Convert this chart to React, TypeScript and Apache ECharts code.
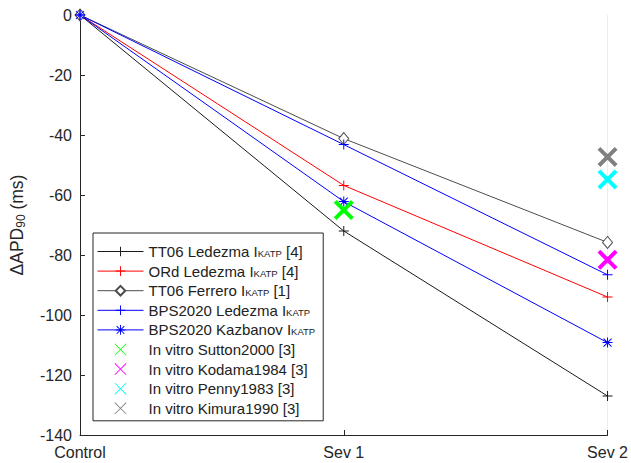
import React, { useEffect, useRef } from "react";
import * as echarts from "echarts";

const categories = ["Control", "Sev 1", "Sev 2"];
const tt06Ledezma = [0, -72, -127];
const ordLedezma = [0, -56.8, -94];
const tt06Ferrero = [0, -41.2, -75.8];
const bpsLedezma = [0, -43.2, -86.6];
const bpsKazbanov = [0, -62.2, -109.2];
const sutton = [null, -65, null];
const kodama = [null, null, -81.6];
const penny = [null, null, -54.8];
const kimura = [null, null, -47.3];

const PLUS = "path://M4.5,0H5.5V4.5H10V5.5H5.5V10H4.5V5.5H0V4.5H4.5Z";
const STAR =
  "path://M4.5,0H5.5V10H4.5Z M0,4.5H10V5.5H0Z M1.35,0.65L9.35,8.65L8.65,9.35L0.65,1.35Z M8.65,0.65L9.35,1.35L1.35,9.35L0.65,8.65Z";
const BIGX =
  "path://M1.4,0L10,8.6L8.6,10L0,1.4Z M8.6,0L10,1.4L1.4,10L0,8.6Z";
const THINX =
  "path://M0.5,0L10,9.5L9.5,10L0,0.5Z M9.5,0L10,0.5L0.5,10L0,9.5Z";

export default function App() {
  const ref = useRef<HTMLDivElement>(null);
  useEffect(() => {
    if (!ref.current) return;
    const chart = echarts.init(ref.current, null, { renderer: "svg" });
    const font = "Liberation Sans";
    const axisColor = "#262626";
    const sub = { fontSize: 9.5, verticalAlign: "bottom", padding: [7, 0, 0, 0], fontFamily: font, color: "#222" };
    const lineSeries = (name: string, data: number[], color: string, symbol: string, size: any, extra: any = {}) => ({
      name,
      type: "line",
      data,
      symbol,
      symbolSize: size,
      showAllSymbol: true,
      lineStyle: { color, width: 1 },
      itemStyle: { color, ...extra },
      z: 3,
    });
    const scatter = (name: string, data: (number | null)[], color: string) => ({
      name,
      type: "scatter",
      data,
      symbol: BIGX,
      symbolSize: 20,
      itemStyle: { color, opacity: 1 },
      z: 4,
    });
    const names = [
      "TT06 Ledezma I{sub|KATP} [4]",
      "ORd Ledezma I{sub|KATP} [4]",
      "TT06 Ferrero I{sub|KATP} [1]",
      "BPS2020 Ledezma I{sub|KATP}",
      "BPS2020 Kazbanov I{sub|KATP}",
      "In vitro Sutton2000 [3]",
      "In vitro Kodama1984 [3]",
      "In vitro Penny1983 [3]",
      "In vitro Kimura1990 [3]",
    ];
    chart.setOption({
      animation: false,
      textStyle: { fontFamily: font },
      grid: { left: 79, right: 19, top: 15, bottom: 28, containLabel: false },
      xAxis: {
        type: "category",
        data: categories,
        boundaryGap: false,
        axisLine: { onZero: false, lineStyle: { color: axisColor } },
        axisTick: { inside: true, length: 5, lineStyle: { color: axisColor } },
        axisLabel: { fontSize: 16, color: axisColor, margin: 9, fontFamily: font },
        splitLine: { show: false },
      },
      yAxis: [
        {
          type: "value",
          min: -140,
          max: 0,
          interval: 20,
          axisLine: { show: true, onZero: false, lineStyle: { color: axisColor } },
          axisTick: { show: true, inside: true, length: 5, lineStyle: { color: axisColor } },
          axisLabel: { fontSize: 16, color: axisColor, margin: 8, fontFamily: font },
          splitLine: { show: false },
          name: "ΔAPD{sub|90} (ms)",
          nameLocation: "middle",
          nameRotate: 90,
          nameGap: 53,
          nameTextStyle: {
            fontSize: 17.5,
            color: axisColor,
            fontFamily: font,
            rich: { sub: { fontSize: 12, fontFamily: font, color: axisColor, verticalAlign: "bottom", padding: [8, 0, 0, 0] } },
          },
        },
        {
          type: "value",
          min: -140,
          max: 0,
          interval: 20,
          position: "right",
          axisLine: { show: true, onZero: false, lineStyle: { color: "#ededed" } },
          axisTick: { show: false },
          axisLabel: { show: false },
          splitLine: { show: false },
        },
      ],
      legend: {
        orient: "vertical",
        left: 93,
        top: 233,
        itemWidth: 46,
        itemHeight: 12,
        itemGap: 4.6,
        padding: [11, 8, 5, 4],
        borderColor: axisColor,
        borderWidth: 1,
        backgroundColor: "#fff",
        symbolKeepAspect: true,
        lineStyle: { width: 1 },
        textStyle: { fontSize: 15, color: "#222", fontFamily: font, lineHeight: 14, rich: { sub } },
        formatter: (n: string) => n,
        data: names.map((n, i) => (i >= 5 ? { name: n, icon: THINX } : { name: n })),
      },
      series: [
        lineSeries(names[0], tt06Ledezma, "#1a1a1a", PLUS, 10),
        lineSeries(names[1], ordLedezma, "#ff0000", PLUS, 10),
        lineSeries(names[2], tt06Ferrero, "#4d4d4d", "diamond", [10, 12], { color: "#fff", borderColor: "#4d4d4d", borderWidth: 1 }),
        lineSeries(names[3], bpsLedezma, "#0000ff", PLUS, 10),
        lineSeries(names[4], bpsKazbanov, "#0000ff", STAR, 10),
        scatter(names[5], sutton, "#00ff00"),
        scatter(names[6], kodama, "#ff00ff"),
        scatter(names[7], penny, "#00ffff"),
        scatter(names[8], kimura, "#808080"),
      ],
    });
    return () => chart.dispose();
  }, []);
  return <div ref={ref} style={{ width: 631, height: 463, position: "absolute", left: 0, top: 0 }} />;
}
